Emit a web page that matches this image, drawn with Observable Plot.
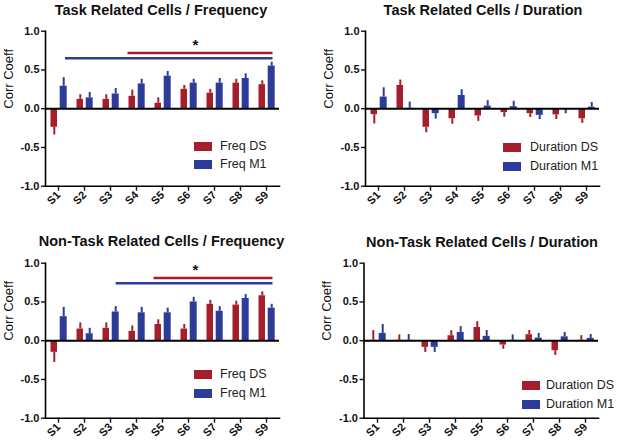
<!DOCTYPE html>
<html><head><meta charset="utf-8">
<script src="https://cdn.jsdelivr.net/npm/d3@7"></script>
<script src="https://cdn.jsdelivr.net/npm/@observablehq/plot@0.6"></script>
<style>
body{margin:0;background:#fff;font-family:"Liberation Sans",Arial,sans-serif;}
#fig{position:relative;width:617px;height:444px;overflow:hidden;background:#fff;}
#fig svg{position:absolute;}
.title{position:absolute;font-weight:bold;font-size:14.5px;line-height:16px;white-space:nowrap;transform:translateX(-50%);color:#111;}
.sw{position:absolute;width:18px;height:9px;}
.lt{position:absolute;font-size:12.5px;line-height:14px;white-space:nowrap;color:#222;}
</style></head><body><div id="fig"></div>
<script>
const sessions = ["S1","S2","S3","S4","S5","S6","S7","S8","S9"];
const yTicks = [-1, -0.5, 0, 0.5, 1];

// Task related cells / Frequency
const taskFreqDS     = [-0.24, 0.12, 0.12, 0.16, 0.07, 0.25, 0.20, 0.33, 0.31];
const taskFreqDSErr  = [0.10, 0.06, 0.06, 0.08, 0.07, 0.05, 0.05, 0.05, 0.05];
const taskFreqM1     = [0.29, 0.14, 0.19, 0.32, 0.42, 0.33, 0.33, 0.39, 0.55];
const taskFreqM1Err  = [0.11, 0.07, 0.07, 0.06, 0.06, 0.05, 0.06, 0.06, 0.05];

// Task related cells / Duration
const taskDurDS      = [-0.077, 0.30, -0.24, -0.13, -0.094, -0.05, -0.064, -0.08, -0.13];
const taskDurDSErr   = [0.12, 0.07, 0.07, 0.07, 0.07, 0.06, 0.05, 0.06, 0.06];
const taskDurM1      = [0.15, 0.005, -0.064, 0.17, 0.034, 0.026, -0.086, -0.005, 0.02];
const taskDurM1Err   = [0.12, 0.08, 0.07, 0.075, 0.07, 0.07, 0.055, 0.06, 0.06];

// Non-task related cells / Frequency
const nonFreqDS      = [-0.15, 0.15, 0.16, 0.12, 0.21, 0.15, 0.47, 0.46, 0.58];
const nonFreqDSErr   = [0.13, 0.08, 0.07, 0.07, 0.06, 0.06, 0.05, 0.05, 0.05];
const nonFreqM1      = [0.31, 0.09, 0.37, 0.36, 0.36, 0.50, 0.38, 0.545, 0.42];
const nonFreqM1Err   = [0.12, 0.07, 0.07, 0.07, 0.06, 0.06, 0.06, 0.05, 0.05];

// Non-task related cells / Duration
const nonDurDS       = [0.005, 0.005, -0.086, 0.064, 0.17, -0.056, 0.077, -0.13, 0.005];
const nonDurDSErr    = [0.125, 0.07, 0.065, 0.065, 0.075, 0.055, 0.055, 0.06, 0.06];
const nonDurM1       = [0.094, 0.005, -0.086, 0.107, 0.056, 0.005, 0.034, 0.05, 0.03];
const nonDurM1Err    = [0.115, 0.075, 0.065, 0.075, 0.075, 0.07, 0.06, 0.057, 0.05];

// significance bars (series, first session, last session, level) and star
const taskFreqSig = [
  {series: "DS", from: "S4", to: "S9", level: 0.72},
  {series: "M1", from: "S1", to: "S9", level: 0.65}
];
const taskFreqStar = [{session: "S6", level: 0.87, label: "*"}];
const nonFreqSig = [
  {series: "DS", from: "S5", to: "S9", level: 0.81},
  {series: "M1", from: "S3", to: "S9", level: 0.74}
];
const nonFreqStar = [{session: "S6", level: 0.96, label: "*"}];

const RED = "#A41E2B";
const BLUE = "#2C3C98";
const FONT = "'Liberation Sans', Arial, sans-serif";

const fig = document.getElementById("fig");

function rows(values, errs) {
  return sessions.map((s, i) => ({session: s, value: values[i], err: errs[i]}));
}
function errEnd(d) { return d.value + (d.value < 0 ? -d.err : d.err); }

function panel(cfg) {
  const ds = rows(cfg.ds, cfg.dsErr);
  const m1 = rows(cfg.m1, cfg.m1Err);
  const marks = [
    Plot.barY(ds, {x: "session", y: "value", fill: RED, insetLeft: 5.5, insetRight: 14}),
    Plot.barY(m1, {x: "session", y: "value", fill: BLUE, insetLeft: 14.7, insetRight: 4.3}),
    Plot.ruleX(ds, {x: "session", y1: "value", y2: errEnd, stroke: RED, strokeWidth: 2, dx: -4.2}),
    Plot.ruleX(m1, {x: "session", y1: "value", y2: errEnd, stroke: BLUE, strokeWidth: 2, dx: 5.2}),
    Plot.ruleY([0], {stroke: "#000", strokeWidth: 2}),
    Plot.frame({anchor: "left", stroke: "#000", strokeWidth: 1.6}),
    Plot.frame({anchor: "bottom", stroke: "#000", strokeWidth: 1.6}),
    Plot.axisY({ticks: yTicks, tickFormat: d => d.toFixed(1), tickSize: 4, tickPadding: 2,
      fontSize: 11, fontWeight: "bold", label: null, strokeWidth: 1.4}),
    Plot.axisX({tickRotate: -45, tickSize: 5, tickPadding: 2, fontSize: 11, fontWeight: "bold",
      label: null, strokeWidth: 1.4}),
    Plot.text(["Corr Coeff"], {frameAnchor: "left", rotate: -90, dx: -37, fontSize: 13, fill: "#111"})
  ];
  if (cfg.sig) {
    marks.push(Plot.ruleY(cfg.sig.filter(d => d.series === "DS"),
      {x1: "from", x2: "to", y: "level", stroke: RED, strokeWidth: 2.5, insetLeft: 4.5, insetRight: 6.5}));
    marks.push(Plot.ruleY(cfg.sig.filter(d => d.series === "M1"),
      {x1: "from", x2: "to", y: "level", stroke: BLUE, strokeWidth: 2.5, insetLeft: cfg.blueInset, insetRight: 6.5}));
    marks.push(Plot.text(cfg.star, {x: "session", y: "level", text: "label", dx: 7, dy: 4,
      fontSize: 15, fontWeight: "bold", fill: "#111"}));
  }
  const svg = Plot.plot({
    width: cfg.width, height: 212,
    marginLeft: cfg.marginLeft, marginRight: cfg.marginRight, marginTop: 30.7, marginBottom: 26.3,
    style: {fontFamily: FONT, background: "transparent", overflow: "visible", color: "#111"},
    x: {domain: sessions, padding: 0},
    y: {domain: [-1, 1]},
    marks
  });
  svg.style.left = cfg.left + "px";
  svg.style.top = cfg.top + "px";
  fig.appendChild(svg);

  const t = document.createElement("div");
  t.className = "title";
  t.textContent = cfg.title;
  t.style.left = cfg.titleX + "px";
  t.style.top = cfg.titleY + "px";
  fig.appendChild(t);

  [[RED, cfg.legend[0], cfg.legY[0]], [BLUE, cfg.legend[1], cfg.legY[1]]].forEach(([c, label, cy]) => {
    const sw = document.createElement("div");
    sw.className = "sw";
    sw.style.background = c;
    sw.style.left = cfg.legX + "px";
    sw.style.top = (cy - 4.5) + "px";
    fig.appendChild(sw);
    const lt = document.createElement("div");
    lt.className = "lt";
    lt.textContent = label;
    lt.style.left = cfg.legTextX + "px";
    lt.style.top = (cy - 7.5) + "px";
    fig.appendChild(lt);
  });
}

panel({left: 0, top: 0, width: 308, marginLeft: 45, marginRight: 29,
  ds: taskFreqDS, dsErr: taskFreqDSErr, m1: taskFreqM1, m1Err: taskFreqM1Err,
  sig: taskFreqSig, star: taskFreqStar, blueInset: 20,
  title: "Task Related Cells / Frequency", titleX: 161, titleY: 1.5,
  legend: ["Freq DS", "Freq M1"], legX: 194, legTextX: 220, legY: [146, 164]});

panel({left: 310, top: 0, width: 307, marginLeft: 55, marginRight: 18,
  ds: taskDurDS, dsErr: taskDurDSErr, m1: taskDurM1, m1Err: taskDurM1Err,
  title: "Task Related Cells / Duration", titleX: 483, titleY: 1.5,
  legend: ["Duration DS", "Duration M1"], legX: 503, legTextX: 530, legY: [147.5, 166]});

panel({left: 0, top: 232, width: 308, marginLeft: 45, marginRight: 29,
  ds: nonFreqDS, dsErr: nonFreqDSErr, m1: nonFreqM1, m1Err: nonFreqM1Err,
  sig: nonFreqSig, star: nonFreqStar, blueInset: 18.7,
  title: "Non-Task Related Cells / Frequency", titleX: 161.5, titleY: 233,
  legend: ["Freq DS", "Freq M1"], legX: 194, legTextX: 220, legY: [374.5, 393.5]});

panel({left: 310, top: 232, width: 307, marginLeft: 53.5, marginRight: 19,
  ds: nonDurDS, dsErr: nonDurDSErr, m1: nonDurM1, m1Err: nonDurM1Err,
  title: "Non-Task Related Cells / Duration", titleX: 482, titleY: 233.5,
  legend: ["Duration DS", "Duration M1"], legX: 522, legTextX: 546, legY: [385, 404]});
</script></body></html>
